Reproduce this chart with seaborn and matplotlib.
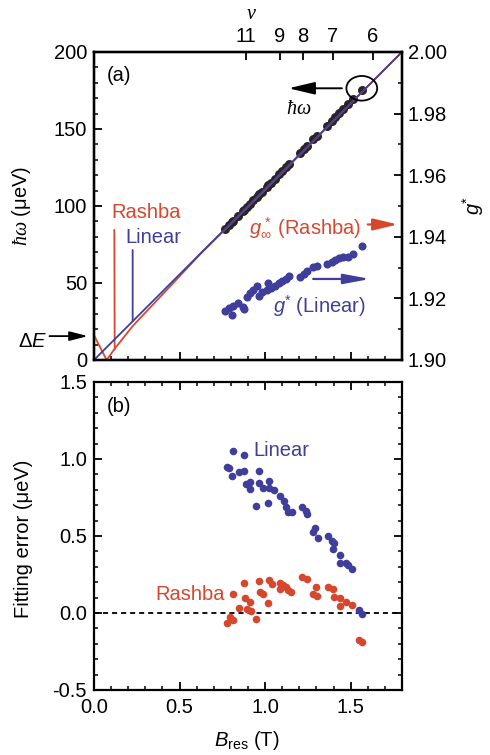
import matplotlib
matplotlib.use("Agg")
import matplotlib.pyplot as plt
import numpy as np
import pandas as pd
import seaborn as sns
from matplotlib.patches import Ellipse
from matplotlib.ticker import MultipleLocator

# ---------------- data ----------------
# resonance field (T) of each measured point in panel (a)
B_res = [0.766, 0.791, 0.809, 0.815, 0.844, 0.870, 0.879, 0.893, 0.912, 0.932,
         0.951, 0.967, 0.981, 1.010, 1.019, 1.033, 1.058, 1.082, 1.098, 1.123,
         1.142, 1.205, 1.228, 1.247, 1.282, 1.302, 1.361, 1.390, 1.409, 1.434,
         1.458, 1.487, 1.513, 1.565]
# hbar*omega (ueV) of the measured points
hw_meas = [84.9, 87.8, 89.7, 90.4, 93.7, 96.5, 97.5, 99.3, 101.4, 103.7,
           105.9, 107.5, 109.1, 112.4, 113.5, 115.0, 117.8, 120.5, 122.4, 125.2,
           127.4, 134.4, 137.0, 139.2, 143.2, 145.5, 152.1, 155.4, 157.6, 160.4,
           163.2, 166.4, 169.4, 175.5]
# g* from linear fit
g_linear = [1.9160, 1.9168, 1.9146, 1.9175, 1.9186, 1.9171, 1.9165, 1.9206, 1.9219, 1.9227,
            1.9240, 1.9208, 1.9222, 1.9227, 1.9249, 1.9235, 1.9240, 1.9249, 1.9256, 1.9263,
            1.9273, 1.9270, 1.9278, 1.9290, 1.9301, 1.9306, 1.9313, 1.9319, 1.9325, 1.9330,
            1.9333, 1.9335, 1.9344, 1.9370]

# fitted curves
fit_B_linear = [0.0, 1.8]
fit_hw_linear = [0.0, 200.0]
fit_B_rashba = [0.0, 0.074, 0.123, 0.226, 0.40, 0.62, 1.00, 1.80]
fit_hw_rashba = [16.0, 0.0, 7.6, 22.0, 42.5, 68.6, 110.5, 200.0]

# fitting errors (ueV)
B_err_linear = [0.815, 0.879, 0.776, 0.791, 0.809, 0.850, 0.879, 0.889, 0.912, 0.912,
                0.967, 0.967, 0.987, 1.025, 1.025, 1.053, 0.947, 1.019, 1.088, 1.111,
                1.123, 1.136, 1.156, 1.215, 1.240, 1.244, 1.292, 1.279, 1.308, 1.370,
                1.390, 1.404, 1.399, 1.435, 1.435, 1.474, 1.483, 1.507, 1.550, 1.565]
err_linear = [1.052, 1.024, 0.946, 0.944, 0.890, 0.913, 0.924, 0.838, 0.853, 0.803,
              0.920, 0.842, 0.810, 0.857, 0.810, 0.799, 0.697, 0.712, 0.760, 0.729,
              0.686, 0.658, 0.654, 0.690, 0.662, 0.641, 0.550, 0.528, 0.485, 0.500,
              0.468, 0.453, 0.414, 0.377, 0.327, 0.327, 0.312, 0.284, 0.019, -0.006]
B_err_rashba = [0.811, 0.879, 0.967, 1.025, 1.039, 1.088, 1.107, 1.123, 1.136, 1.150,
                1.088, 1.215, 1.244, 1.298, 1.279, 1.306, 1.370, 1.399, 1.404, 1.435,
                1.435, 1.474, 1.507, 0.883, 0.912, 0.850, 0.893, 0.916, 0.971, 0.987,
                1.019, 0.795, 0.776, 0.811, 0.947, 1.550, 1.565]
err_rashba = [0.121, 0.193, 0.206, 0.214, 0.188, 0.193, 0.182, 0.171, 0.149, 0.138,
              0.154, 0.236, 0.219, 0.167, 0.123, 0.110, 0.171, 0.154, 0.106, 0.095,
              0.045, 0.073, 0.052, 0.095, 0.073, 0.034, 0.024, 0.015, 0.134, 0.121,
              0.063, -0.028, -0.063, -0.045, -0.041, -0.175, -0.190]

nu_labels = [11, 9, 8, 7, 6]
B_at_nu1 = 9.77          # T, field at filling factor 1
g_inf_rashba = 1.944
delta_E = 15.5           # ueV

# ---------------- style ----------------
RED = "#d7472d"
BLUE = "#3f3f9b"
FS = 14.5

sns.set_theme(style="ticks")
plt.rcParams.update({
    "font.family": ["Liberation Sans", "DejaVu Sans"],
    "mathtext.fontset": "custom",
    "mathtext.rm": "Liberation Sans",
    "mathtext.it": "Liberation Serif:italic",
    "mathtext.sf": "Liberation Sans:italic",
    "mathtext.bf": "Liberation Sans:bold",
    "font.size": FS,
    "axes.labelsize": FS,
    "xtick.labelsize": FS,
    "ytick.labelsize": FS,
    "axes.linewidth": 1.6,
    "axes.edgecolor": "black",
    "xtick.color": "black",
    "ytick.color": "black",
    "text.color": "black",
    "axes.labelcolor": "black",
    "xtick.direction": "in",
    "ytick.direction": "in",
    "xtick.major.size": 5.5,
    "ytick.major.size": 5.5,
    "xtick.minor.size": 3.0,
    "ytick.minor.size": 3.0,
    "xtick.major.width": 1.3,
    "ytick.major.width": 1.3,
    "xtick.minor.width": 1.1,
    "ytick.minor.width": 1.1,
})

fig = plt.figure(figsize=(4.9, 7.55), dpi=100)
ax1 = fig.add_axes([0.1918, 0.5232, 0.6286, 0.408])
ax2 = fig.add_axes([0.1918, 0.0861, 0.6286, 0.408])

df_top = pd.DataFrame({"B": B_res, "hw": hw_meas, "g": g_linear})

# ---------- panel (a) ----------
sns.scatterplot(data=df_top, x="B", y="hw", ax=ax1, color="#262626", s=42,
                linewidth=0, zorder=2, legend=False)
sns.lineplot(x=fit_B_rashba, y=fit_hw_rashba, ax=ax1, color=RED, lw=1.3,
             zorder=3, errorbar=None)
sns.lineplot(x=fit_B_linear, y=fit_hw_linear, ax=ax1, color=BLUE, lw=1.3,
             zorder=4, errorbar=None)
ax1.set_xlim(0, 1.8)
ax1.set_ylim(0, 200)
ax1.xaxis.set_major_locator(MultipleLocator(0.5))
ax1.xaxis.set_minor_locator(MultipleLocator(0.1))
ax1.yaxis.set_major_locator(MultipleLocator(50))
ax1.yaxis.set_minor_locator(MultipleLocator(10))
ax1.tick_params(axis="x", which="both", labelbottom=False, bottom=True, top=False)
ax1.tick_params(axis="y", which="both", left=True, right=False, pad=5)
ax1.set_xlabel("")
ax1.set_ylabel(r"$\hbar\omega$ (μeV)")
ax1.yaxis.set_label_coords(-0.198, 0.5)

axr = ax1.twinx()
sns.scatterplot(data=df_top, x="B", y="g", ax=axr, color=BLUE, s=34,
                linewidth=0, zorder=3, legend=False)
axr.set_ylim(1.90, 2.00)
axr.yaxis.set_major_locator(MultipleLocator(0.02))
axr.yaxis.set_minor_locator(MultipleLocator(0.01))
axr.yaxis.set_major_formatter(matplotlib.ticker.FormatStrFormatter("%.2f"))
axr.tick_params(axis="y", which="both", right=True, pad=4.3)
axr.set_xlabel("")
axr.set_ylabel(r"$\mathsf{g}^{*}$", rotation=90)
axr.yaxis.set_label_coords(1.19, 0.5)

axt = ax1.twiny()
axt.set_xlim(0, 1.8)
axt.set_xticks([B_at_nu1 / n for n in nu_labels])
axt.set_xticklabels([str(n) for n in nu_labels])
axt.tick_params(axis="x", which="major", top=True, bottom=False, pad=4)
axt.tick_params(axis="x", which="minor", top=False, bottom=False)
axt.set_xlabel(r"$\nu$")
axt.xaxis.set_label_coords(0.51, 1.108)

# annotations panel (a)
ax1.text(0.04, 0.925, "(a)", transform=ax1.transAxes, ha="left", va="center", fontsize=FS)
ax1.text(0.307, 95.5, "Rashba", color=RED, ha="center", va="center", fontsize=FS)
ax1.text(0.345, 79.5, "Linear", color=BLUE, ha="center", va="center", fontsize=FS)
ax1.annotate("", xy=(0.121, 6.8), xytext=(0.119, 84.5),
             arrowprops=dict(arrowstyle="-", color=RED, lw=1.3, shrinkA=0, shrinkB=0))
ax1.annotate("", xy=(0.226, 25.1), xytext=(0.226, 71.4),
             arrowprops=dict(arrowstyle="-", color=BLUE, lw=1.3, shrinkA=0, shrinkB=0))

ax1.annotate("", xy=(-0.035, delta_E), xytext=(-0.26, delta_E), annotation_clip=False,
             arrowprops=dict(arrowstyle="-|>,head_length=0.55,head_width=0.14",
                             mutation_scale=20, color="black", lw=1.3, shrinkA=0, shrinkB=0))
ax1.text(-0.36, 12.0, r"$\Delta\mathsf{E}$", ha="center", va="center", fontsize=FS,
         clip_on=False)

ax1.add_patch(Ellipse((1.565, 176.4), 0.18, 16, fill=False, ec="black", lw=1.3, zorder=6))
ax1.annotate("", xy=(1.137, 176.4), xytext=(1.449, 176.4),
             arrowprops=dict(arrowstyle="-|>,head_length=0.8,head_width=0.19",
                             mutation_scale=20, color="black", lw=1.4, shrinkA=0, shrinkB=0))
ax1.text(1.195, 163.0, r"$\hbar\omega$", ha="center", va="center", fontsize=FS)

ax1.text(1.234, 85.5, r"$\mathsf{g}_{\infty}^{\,*}$ (Rashba)", color=RED, ha="center",
         va="center", fontsize=FS)
axr.annotate("", xy=(1.775, g_inf_rashba), xytext=(1.60, g_inf_rashba),
             annotation_clip=False,
             arrowprops=dict(arrowstyle="-|>,head_length=0.75,head_width=0.18",
                             mutation_scale=20, color=RED, lw=1.6, shrinkA=0, shrinkB=0))
ax1.text(1.316, 35.0, r"$\mathsf{g}^{*}$ (Linear)", color=BLUE, ha="center",
         va="center", fontsize=FS)
axr.annotate("", xy=(1.614, 1.9263), xytext=(1.281, 1.9263),
             arrowprops=dict(arrowstyle="-|>,head_length=0.8,head_width=0.15",
                             mutation_scale=20, color=BLUE, lw=1.6, shrinkA=0, shrinkB=0))

# ---------- panel (b) ----------
df_lin = pd.DataFrame({"B": B_err_linear, "err": err_linear})
df_ras = pd.DataFrame({"B": B_err_rashba, "err": err_rashba})
ax2.axhline(0, color="black", lw=1.3, ls=(0, (2.8, 2.2)), zorder=1)
sns.scatterplot(data=df_lin, x="B", y="err", ax=ax2, color=BLUE, s=30,
                linewidth=0, zorder=3, legend=False)
sns.scatterplot(data=df_ras, x="B", y="err", ax=ax2, color=RED, s=30,
                linewidth=0, zorder=2, legend=False)
ax2.set_xlim(0, 1.8)
ax2.set_ylim(-0.5, 1.5)
ax2.xaxis.set_major_locator(MultipleLocator(0.5))
ax2.xaxis.set_minor_locator(MultipleLocator(0.1))
ax2.yaxis.set_major_locator(MultipleLocator(0.5))
ax2.yaxis.set_minor_locator(MultipleLocator(0.1))
ax2.xaxis.set_major_formatter(matplotlib.ticker.FormatStrFormatter("%.1f"))
ax2.yaxis.set_major_formatter(matplotlib.ticker.FormatStrFormatter("%.1f"))
ax2.tick_params(which="both", top=True, right=True, bottom=True, left=True)
ax2.tick_params(axis="x", which="major", pad=6)
ax2.tick_params(axis="y", which="major", pad=5)
ax2.set_ylabel("Fitting error (μeV)")
ax2.yaxis.set_label_coords(-0.198, 0.49)
ax2.set_xlabel(r"$\mathsf{B}_{\mathrm{res}}$ (T)")
ax2.xaxis.set_label_coords(0.497, -0.128)

ax2.text(0.04, 0.92, "(b)", transform=ax2.transAxes, ha="left", va="center", fontsize=FS)
ax2.text(1.094, 1.058, "Linear", color=BLUE, ha="center", va="center", fontsize=FS)
ax2.text(0.561, 0.123, "Rashba", color=RED, ha="center", va="center", fontsize=FS)

fig.savefig("out.png", dpi=100)
